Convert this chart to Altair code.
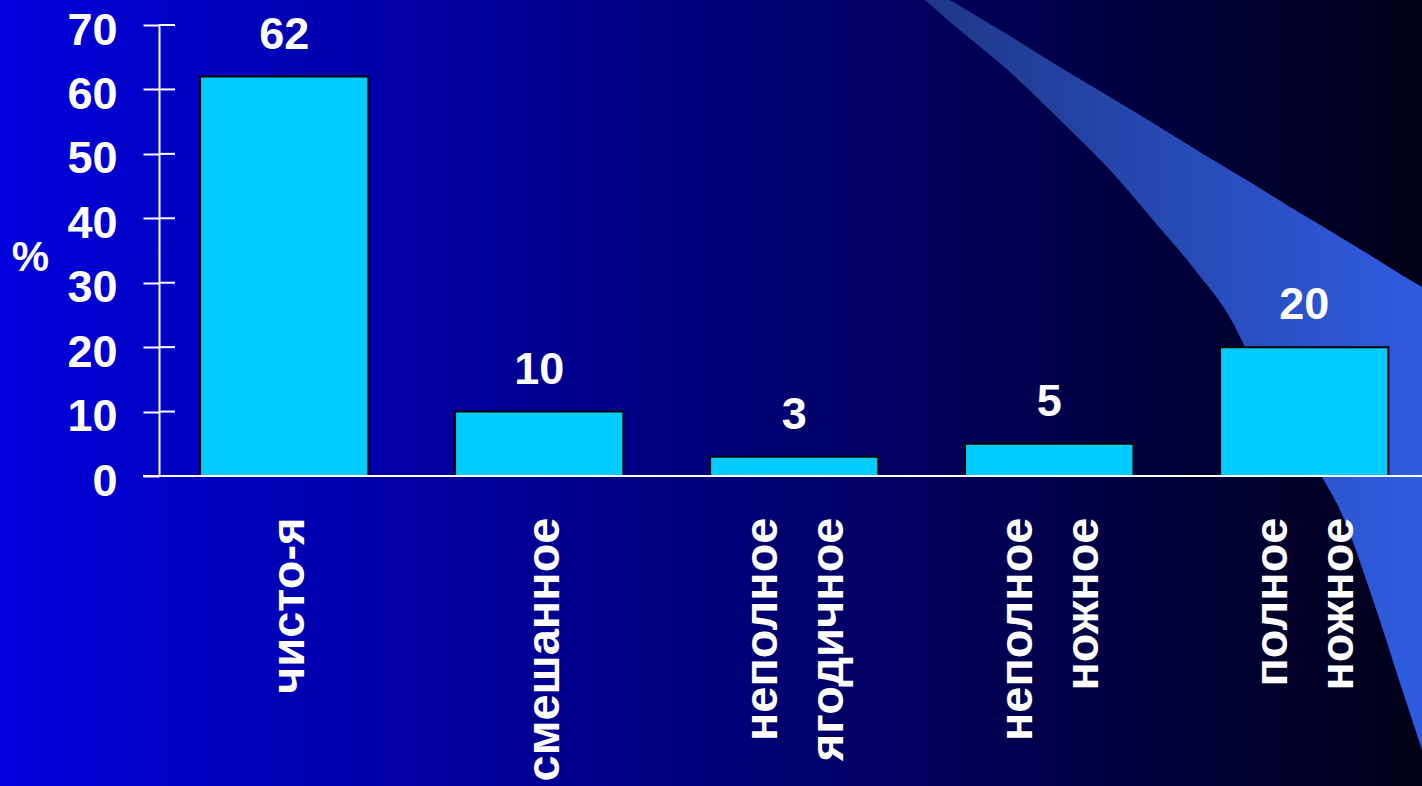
import altair as alt
import pandas as pd

# ---- chart data ----
categories = ["чисто-я", "смешанное", "неполное ягодичное", "неполное ножное", "полное ножное"]
values = [62, 10, 3, 5, 20]
y_ticks = [0, 10, 20, 30, 40, 50, 60, 70]

# ---- background decoration (swoosh outline, in page pixels) ----
swoosh_x = [925, 950, 1010, 1063, 1110, 1153, 1195, 1233, 1245, 1290, 1322, 1340, 1373, 1400, 1422]
swoosh_top = [-15, 0, 36, 69, 97, 123, 149, 172, 179, 207, 226, 237, 257, 274, 287]
swoosh_bottom = [0, 22, 72, 123, 170, 220, 270, 323, 347, 415, 477, 510, 600, 683, 750]

FONT = "Liberation Sans"
W, H = 1263, 451
PAD = {"left": 159, "top": 25, "right": 0, "bottom": 310}

df = pd.DataFrame({"cat": categories, "val": values})
ticks_df = pd.DataFrame({"t": y_ticks})
swoosh_df = pd.DataFrame({"px": swoosh_x, "top": swoosh_top, "bottom": swoosh_bottom})

bg = alt.Chart(pd.DataFrame({"a": [0]})).mark_rect(
    fill=alt.LinearGradient(
        gradient="linear", x1=0, x2=1, y1=0, y2=0,
        stops=[alt.GradientStop(color="#0000DD", offset=0),
               alt.GradientStop(color="#000018", offset=1)],
    )
).encode(
    x=alt.value(-PAD["left"]), x2=alt.value(W),
    y=alt.value(-PAD["top"]), y2=alt.value(H + PAD["bottom"]),
)

swoosh = alt.Chart(swoosh_df).mark_area(
    interpolate="monotone",
    fill=alt.LinearGradient(
        gradient="linear", x1=0, x2=1, y1=0, y2=0,
        stops=[alt.GradientStop(color="#1E3888", offset=0),
               alt.GradientStop(color="#2F5CE0", offset=1)],
    ),
).encode(
    x=alt.X("px:Q", axis=None, scale=alt.Scale(domain=[0, 1422], range=[-PAD["left"], W], nice=False, zero=False)),
    y=alt.Y("top:Q", axis=None, scale=alt.Scale(domain=[0, 786], range=[-PAD["top"], H + PAD["bottom"]], nice=False, zero=False)),
    y2="bottom:Q",
)

def yscale():
    return alt.Scale(domain=[0, 70], nice=False)

def xscale():
    return alt.Scale(type="band", domain=categories, paddingInner=0.34, paddingOuter=0.1465, align=0.55)

bars = alt.Chart(df).mark_bar(fill="#00CCFF", stroke="#000000", strokeWidth=2).encode(
    x=alt.X("cat:N", sort=categories, scale=xscale(), title=None,
            axis=alt.Axis(labelAngle=-90, labelAlign="right", labelBaseline="middle",
                          labelExpr="split(datum.label, ' ')", labelLineHeight=66,
                          labelPadding=41,
                          labelOffset={"condition": {"test": "indexof(datum.value, ' ') >= 0", "value": -31}, "value": 6},
                          ticks=False, domain=False,
                          labelLimit=0, labelOverlap=False, labelFontSize=47,
                          labelFont=FONT, labelFontWeight="bold", labelColor="white",
                          grid=False, zindex=2)),
    y=alt.Y("val:Q", scale=yscale(),
            axis=alt.Axis(values=y_ticks, title="%", titleAngle=0, titleX=-129, titleY=232,
                          titleAlign="center", titleBaseline="middle", titleFontSize=42,
                          titleFont=FONT, titleFontWeight="bold", titleColor="white",
                          labelPadding=26, labelOffset=5, tickSize=16, labelFontSize=45,
                          labelFont=FONT, labelFontWeight="bold", labelColor="white",
                          domainColor="white", tickColor="white", domainWidth=2, tickWidth=2,
                          grid=False, zindex=2)),
)

inner_ticks = alt.Chart(ticks_df).mark_rule(color="white", strokeWidth=2).encode(
    y=alt.Y("t:Q", scale=yscale(), axis=None), x=alt.value(0), x2=alt.value(16),
)

baseline = alt.Chart(pd.DataFrame({"z": [0]})).mark_rule(color="white", strokeWidth=2).encode(
    y=alt.Y("z:Q", scale=yscale(), axis=None), x=alt.value(-16), x2=alt.value(W),
)

labels = alt.Chart(df).mark_text(
    dy=-28, baseline="alphabetic", align="center", fontSize=45, fontWeight="bold",
    color="white", font=FONT,
).encode(
    x=alt.X("cat:N", sort=categories, scale=xscale(), axis=None),
    y=alt.Y("val:Q", scale=yscale(), axis=None),
    text=alt.Text("val:Q"),
)

chart = alt.layer(bg, swoosh, inner_ticks, bars, baseline, labels).resolve_scale(
    x="independent", y="independent"
).properties(
    width=W, height=H, padding=PAD, autosize=alt.AutoSizeParams(type="none"),
    background="#000018",
).configure_view(stroke=None)

chart.save("out.html", embed_options={"renderer": "svg", "actions": False})
